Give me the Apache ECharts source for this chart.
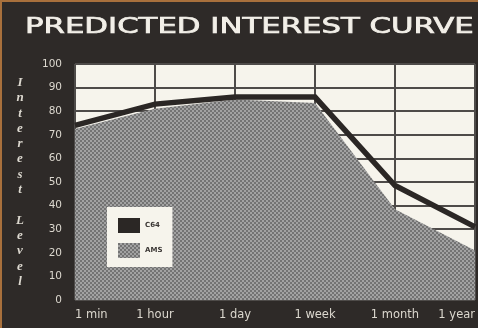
<!DOCTYPE html>
<html>
<head>
<meta charset="utf-8">
<script src="https://cdn.jsdelivr.net/npm/echarts@6/dist/echarts.min.js"></script>
<style>
  html, body { margin: 0; padding: 0; background: #2e2a28; }
  #chart { width: 478px; height: 328px; }
</style>
</head>
<body>
<div id="chart"></div>
<script>
// Time horizons along the bottom
const horizons = ['1 min', '1 hour', '1 day', '1 week', '1 month', '1 year'];
// Predicted interest level per machine
const c64Interest = [74, 83, 86, 86, 48.5, 31];
const amsInterest = [72.5, 81, 85, 83.5, 38.5, 21];
// Axis text
const chartTitle = 'PREDICTED INTEREST CURVE';
const yAxisName = 'Interest Level';
const seriesNames = ['C64', 'AMS'];

// Small dithered fill for the shaded area
function ditherPattern() {
  const c = document.createElement('canvas');
  c.width = 4; c.height = 4;
  const g = c.getContext('2d');
  g.fillStyle = '#a2a2a2';
  g.fillRect(0, 0, 4, 4);
  g.fillStyle = '#737373';
  g.fillRect(0, 0, 2, 2);
  g.fillRect(2, 2, 2, 2);
  return { image: c, repeat: 'repeat' };
}
const dither = ditherPattern();
const darkInk = '#2b2725';
const paleText = '#dcd8cf';

const chart = echarts.init(document.getElementById('chart'), null, { renderer: 'canvas' });

chart.setOption({
  backgroundColor: '#2e2a28',
  animation: false,
  graphic: [
    { type: 'rect', left: 0, top: 0, shape: { width: 2, height: 328 }, style: { fill: '#a8703c' } },
    { type: 'rect', left: 0, top: 0, shape: { width: 478, height: 2 }, style: { fill: '#a8703c' } },
    {
      type: 'text', x: 25, y: 17, scaleX: 1.465,
      style: {
        text: chartTitle, fill: '#f2efe8',
        stroke: '#f2efe8', lineWidth: 0.7,
        font: 'normal 21px "DejaVu Sans"', textVerticalAlign: 'top'
      }
    }
  ],
  grid: {
    left: 75, right: 3, top: 64, bottom: 28,
    show: true, backgroundColor: '#f6f4ec', borderWidth: 0
  },
  legend: {
    orient: 'vertical',
    left: 107, top: 207,
    backgroundColor: '#f6f4ec',
    padding: [11, 10, 9, 11],
    itemGap: 10,
    itemWidth: 22, itemHeight: 15,
    textStyle: { fontSize: 7, fontWeight: 'bold', color: '#3a3634', fontFamily: 'DejaVu Sans' },
    data: [
      { name: seriesNames[0], icon: 'rect', itemStyle: { color: darkInk, borderWidth: 0 } },
      { name: seriesNames[1], icon: 'rect', itemStyle: { color: dither, borderWidth: 0 } }
    ]
  },
  xAxis: {
    type: 'category',
    data: horizons,
    boundaryGap: false,
    axisLine: { show: false },
    axisTick: { show: false },
    splitLine: { show: true, lineStyle: { color: '#4e4b49', width: 2 } },
    axisLabel: {
      color: paleText, fontSize: 11.5, fontFamily: 'DejaVu Sans', margin: 9,
      alignMinLabel: 'left', alignMaxLabel: 'right'
    }
  },
  yAxis: {
    type: 'value',
    min: 0, max: 100, interval: 10,
    name: yAxisName.split('').join('\n'),
    nameLocation: 'middle',
    nameRotate: 0,
    nameGap: 55,
    nameTextStyle: {
      align: 'center', verticalAlign: 'middle',
      color: paleText, fontSize: 13, lineHeight: 15.3,
      fontStyle: 'italic', fontWeight: 'bold', fontFamily: 'Liberation Serif'
    },
    axisLine: { show: false },
    axisTick: { show: false },
    splitLine: { show: true, lineStyle: { color: '#4e4b49', width: 2 } },
    axisLabel: { color: paleText, fontSize: 10.5, fontFamily: 'DejaVu Sans', margin: 13 }
  },
  series: [
    {
      name: seriesNames[1],
      type: 'line',
      data: amsInterest,
      symbol: 'none',
      lineStyle: { width: 0 },
      itemStyle: { color: dither },
      areaStyle: { color: dither, opacity: 1 },
      z: 2
    },
    {
      name: seriesNames[0],
      type: 'line',
      data: c64Interest,
      symbol: 'none',
      itemStyle: { color: darkInk },
      lineStyle: { color: darkInk, width: 5.5, join: 'miter' },
      z: 3
    }
  ]
});
</script>
</body>
</html>
